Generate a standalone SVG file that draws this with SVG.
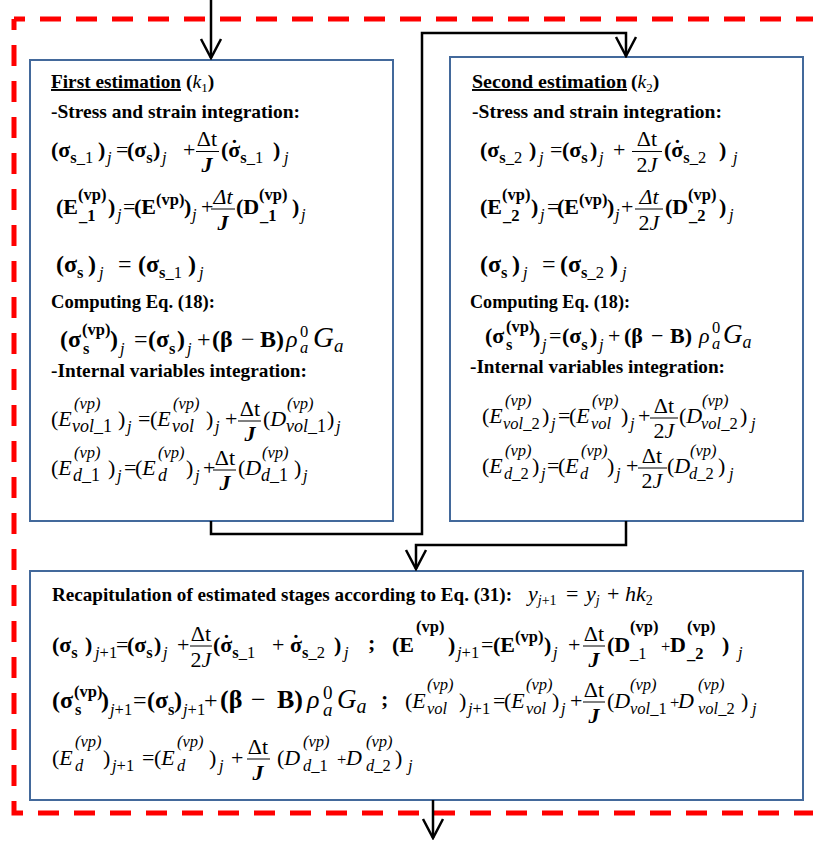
<svg xmlns="http://www.w3.org/2000/svg" width="813" height="843" viewBox="0 0 813 843">
<style>
.box{fill:#fff;stroke:#43699b;stroke-width:2}
.red{fill:none;stroke:#ff0000;stroke-width:5;stroke-dasharray:21 15;stroke-dashoffset:10}
.c{fill:none;stroke:#000;stroke-width:2.5}
.h{font-family:"Liberation Serif",serif;font-weight:bold;font-size:19.5px;fill:#000}
.m{font-family:"Liberation Serif",serif;font-size:22px;fill:#000}
.L{font-size:24px}
.b{font-weight:bold}
.i{font-style:italic}
.s{font-size:16.5px}
.v{font-size:18px}
.u{text-decoration:underline}
.fr{text-anchor:middle}
.fb{stroke:#000;stroke-width:1}
</style>
<defs>
<marker id="ah" viewBox="-2 -12 24 24" refX="20" refY="0" markerWidth="24" markerHeight="24" markerUnits="userSpaceOnUse" orient="auto"><path d="M1,-10 L20,0 L1,10" fill="none" stroke="#000" stroke-width="2.5"/></marker>
</defs>
<rect width="813" height="843" fill="#fff"/>
<g id="frame">
<path class="red" d="M14,19 H830"/>
<path class="red" d="M14,19 V813 H830"/>
</g>

<g id="box1">
<rect class="box" x="30" y="60" width="363" height="461"/>
<text class="h u" x="51" y="88" textLength="130" lengthAdjust="spacingAndGlyphs">First estimation</text>
<text class="h" x="186" y="88">(<tspan class="i" font-weight="normal">k</tspan><tspan font-weight="normal" font-size="13" dy="4">1</tspan><tspan dy="-4">)</tspan></text>
<text class="h" x="51" y="118" textLength="249" lengthAdjust="spacingAndGlyphs">-Stress and strain integration:</text>
<text class="m" y="157"><tspan class="b" x="51">(σ</tspan><tspan class="s b" y="163">s</tspan><tspan class="s" y="163">_1</tspan><tspan class="b" x="98" y="157">)</tspan><tspan class="s i" x="107" y="163">j</tspan><tspan x="116" y="157">=</tspan><tspan class="b" x="127">(σ</tspan><tspan class="s b" y="163">s</tspan><tspan class="b" x="153" y="157">)</tspan><tspan class="s i" x="162" y="163">j</tspan><tspan x="183" y="157">+</tspan><tspan class="b" x="221">(σ</tspan><tspan class="s b" y="163">s</tspan><tspan class="s" y="163">_1</tspan><tspan class="b" x="273" y="157">)</tspan><tspan class="s i" x="284" y="163">j</tspan><tspan class="b" x="230.8" y="155">˙</tspan></text>
<text class="m fr" x="207" y="146">Δt</text><line class="fb" x1="196" y1="151.5" x2="219" y2="151.5"/><text class="m fr b i" x="207" y="172">J</text>
<text class="m" y="214"><tspan class="b" x="56">(E</tspan><tspan class="s b" x="78" y="200">(vp)</tspan><tspan class="s b" x="79" y="221">_1</tspan><tspan class="b" x="108" y="214">)</tspan><tspan class="s i" x="117" y="220">j</tspan><tspan x="123" y="214">=</tspan><tspan class="b" x="134">(E</tspan><tspan class="s b" y="205">(vp)</tspan><tspan class="b" x="184" y="214">)</tspan><tspan class="s i" x="192" y="220">j</tspan><tspan x="201" y="214">+</tspan><tspan class="b" x="236">(D</tspan><tspan class="s b" x="259" y="200">(vp)</tspan><tspan class="s b" x="260" y="221">_1</tspan><tspan class="b" x="292" y="214">)</tspan><tspan class="s i" x="301" y="220">j</tspan></text>
<text class="m fr i" x="223" y="204">Δt</text><line class="fb" x1="211" y1="209" x2="235" y2="209"/><text class="m fr b i" x="223" y="230">J</text>
<text class="m L" y="272"><tspan class="b" x="56">(σ</tspan><tspan class="s b" y="278">s</tspan><tspan class="b" x="88" y="272">)</tspan><tspan class="s i" x="99" y="278">j</tspan><tspan x="118" y="272">=</tspan><tspan class="b" x="138">(σ</tspan><tspan class="s b" y="278">s</tspan><tspan class="s" y="278">_1</tspan><tspan class="b" x="188" y="272">)</tspan><tspan class="s i" x="199" y="278">j</tspan></text>
<text class="h" x="51" y="308" textLength="164" lengthAdjust="spacingAndGlyphs">Computing Eq. (18):</text>
<text class="m L" y="347"><tspan class="b" x="60">(σ</tspan><tspan class="s b" x="82" y="335">(vp)</tspan><tspan class="s b" x="83" y="354">s</tspan><tspan class="b" x="110" y="347">)</tspan><tspan class="s i" x="120" y="354">j</tspan><tspan x="134" y="347">=</tspan><tspan class="b" x="148">(σ</tspan><tspan class="s b" y="354">s</tspan><tspan class="b" x="177" y="347">)</tspan><tspan class="s i" x="187" y="354">j</tspan><tspan x="197" y="347">+</tspan><tspan class="b" x="212">(β</tspan><tspan x="241">−</tspan><tspan class="b" x="260">B)</tspan><tspan class="i" x="286">ρ</tspan><tspan class="s" x="300" y="337">0</tspan><tspan class="s i" x="300" y="353">a</tspan><tspan class="i" x="313" y="347" font-size="29">G</tspan><tspan class="i" font-size="19" y="352">a</tspan></text>
<text class="h" x="51" y="377" textLength="256" lengthAdjust="spacingAndGlyphs">-Internal variables integration:</text>
<text class="m" y="426"><tspan x="51">(</tspan><tspan class="i">E</tspan><tspan class="s i" x="74" y="409">(vp)</tspan><tspan class="v i" x="72" y="432">vol</tspan><tspan class="v" y="432">_1</tspan><tspan x="118" y="426">)</tspan><tspan class="s i" x="127" y="432">j</tspan><tspan x="138" y="426">=</tspan><tspan x="150">(</tspan><tspan class="i">E</tspan><tspan class="s i" x="173" y="409">(vp)</tspan><tspan class="v i" x="172" y="432">vol</tspan><tspan x="206" y="426">)</tspan><tspan class="s i" x="215" y="432">j</tspan><tspan x="225" y="426">+</tspan><tspan x="263">(</tspan><tspan class="i">D</tspan><tspan class="s i" x="287" y="409">(vp)</tspan><tspan class="v i" x="286" y="432">vol</tspan><tspan class="v" y="432">_1</tspan><tspan x="327" y="426">)</tspan><tspan class="s i" x="336" y="432">j</tspan></text>
<text class="m fr" x="250" y="416">Δt</text><line class="fb" x1="238" y1="421" x2="261" y2="421"/><text class="m fr b i" x="250" y="441">J</text>
<text class="m" y="475"><tspan x="51">(</tspan><tspan class="i">E</tspan><tspan class="s i" x="74" y="458">(vp)</tspan><tspan class="v i" x="73" y="481">d</tspan><tspan class="v" y="481">_1</tspan><tspan x="108" y="475">)</tspan><tspan class="s i" x="117" y="481">j</tspan><tspan x="124" y="475">=</tspan><tspan x="135">(</tspan><tspan class="i">E</tspan><tspan class="s i" x="158" y="458">(vp)</tspan><tspan class="v i" x="158" y="481">d</tspan><tspan x="186" y="475">)</tspan><tspan class="s i" x="195" y="481">j</tspan><tspan x="203" y="475">+</tspan><tspan x="238">(</tspan><tspan class="i">D</tspan><tspan class="s i" x="262" y="458">(vp)</tspan><tspan class="v i" x="261" y="481">d</tspan><tspan class="v" y="481">_1</tspan><tspan x="294" y="475">)</tspan><tspan class="s i" x="303" y="481">j</tspan></text>
<text class="m fr" x="225" y="465">Δt</text><line class="fb" x1="213" y1="470" x2="236" y2="470"/><text class="m fr b i" x="225" y="490">J</text>
</g>

<g id="box2">
<rect class="box" x="450" y="57" width="353" height="464"/>
<text class="h u" x="472" y="88" textLength="155" lengthAdjust="spacingAndGlyphs">Second estimation</text>
<text class="h" x="631" y="88">(<tspan class="i" font-weight="normal">k</tspan><tspan font-weight="normal" font-size="13" dy="4">2</tspan><tspan dy="-4">)</tspan></text>
<text class="h" x="472" y="118" textLength="250" lengthAdjust="spacingAndGlyphs">-Stress and strain integration:</text>
<text class="m" y="157"><tspan class="b" x="480">(σ</tspan><tspan class="s b" y="163">s</tspan><tspan class="s" y="163">_2</tspan><tspan class="b" x="529" y="157">)</tspan><tspan class="s i" x="539" y="163">j</tspan><tspan x="550" y="157">=</tspan><tspan class="b" x="562">(σ</tspan><tspan class="s b" y="163">s</tspan><tspan class="b" x="590" y="157">)</tspan><tspan class="s i" x="599" y="163">j</tspan><tspan x="613" y="157">+</tspan><tspan class="b" x="664">(σ</tspan><tspan class="s b" y="163">s</tspan><tspan class="s" y="163">_2</tspan><tspan class="b" x="719" y="157">)</tspan><tspan class="s i" x="733" y="163">j</tspan><tspan class="b" x="673.8" y="155">˙</tspan></text>
<text class="m fr" x="647" y="146">Δt</text><line class="fb" x1="632" y1="151.5" x2="662" y2="151.5"/><text class="m fr" x="647" y="172">2<tspan class="i">J</tspan></text>
<text class="m" y="214"><tspan class="b" x="480">(E</tspan><tspan class="s b" x="502" y="200">(vp)</tspan><tspan class="s b" x="503" y="221">_2</tspan><tspan class="b" x="531" y="214">)</tspan><tspan class="s i" x="540" y="220">j</tspan><tspan x="547" y="214">=</tspan><tspan class="b" x="557">(E</tspan><tspan class="s b" y="205">(vp)</tspan><tspan class="b" x="607" y="214">)</tspan><tspan class="s i" x="615" y="220">j</tspan><tspan x="621" y="214">+</tspan><tspan class="b" x="665">(D</tspan><tspan class="s b" x="688" y="200">(vp)</tspan><tspan class="s b" x="689" y="221">_2</tspan><tspan class="b" x="719" y="214">)</tspan><tspan class="s i" x="729" y="220">j</tspan></text>
<text class="m fr i" x="649" y="204">Δt</text><line class="fb" x1="635" y1="209" x2="663" y2="209"/><text class="m fr" x="649" y="230">2<tspan class="i">J</tspan></text>
<text class="m L" y="272"><tspan class="b" x="480">(σ</tspan><tspan class="s b" y="278">s</tspan><tspan class="b" x="512" y="272">)</tspan><tspan class="s i" x="523" y="278">j</tspan><tspan x="542" y="272">=</tspan><tspan class="b" x="560">(σ</tspan><tspan class="s b" y="278">s</tspan><tspan class="s" y="278">_2</tspan><tspan class="b" x="610" y="272">)</tspan><tspan class="s i" x="622" y="278">j</tspan></text>
<text class="h" x="470" y="308" textLength="160" lengthAdjust="spacingAndGlyphs">Computing Eq. (18):</text>
<text class="m" font-size="23" y="343"><tspan class="b" x="485">(σ</tspan><tspan class="s b" x="506" y="332">(vp)</tspan><tspan class="s b" x="506" y="350">s</tspan><tspan class="b" x="533" y="343">)</tspan><tspan class="s i" x="542" y="350">j</tspan><tspan x="549" y="343">=</tspan><tspan class="b" x="562">(σ</tspan><tspan class="s b" y="350">s</tspan><tspan class="b" x="590" y="343">)</tspan><tspan class="s i" x="599" y="350">j</tspan><tspan x="608" y="343">+</tspan><tspan class="b" x="624">(β</tspan><tspan x="651">−</tspan><tspan class="b" x="670">B)</tspan><tspan class="i" x="699">ρ</tspan><tspan class="s" x="712" y="333">0</tspan><tspan class="s i" x="712" y="349">a</tspan><tspan class="i" x="723" y="343" font-size="27">G</tspan><tspan class="i" font-size="18" y="348">a</tspan></text>
<text class="h" x="470" y="373" textLength="255" lengthAdjust="spacingAndGlyphs">-Internal variables integration:</text>
<text class="m" y="423"><tspan x="482">(</tspan><tspan class="i">E</tspan><tspan class="s i" x="505" y="406">(vp)</tspan><tspan class="s i" x="503" y="429">vol</tspan><tspan class="s" y="429">_2</tspan><tspan x="542" y="423">)</tspan><tspan class="s i" x="551" y="429">j</tspan><tspan x="558" y="423">=</tspan><tspan x="569">(</tspan><tspan class="i">E</tspan><tspan class="s i" x="592" y="406">(vp)</tspan><tspan class="s i" x="591" y="429">vol</tspan><tspan x="621" y="423">)</tspan><tspan class="s i" x="630" y="429">j</tspan><tspan x="638" y="423">+</tspan><tspan x="679">(</tspan><tspan class="i">D</tspan><tspan class="s i" x="702" y="406">(vp)</tspan><tspan class="s i" x="701" y="429">vol</tspan><tspan class="s" y="429">_2</tspan><tspan x="740" y="423">)</tspan><tspan class="s i" x="751" y="429">j</tspan></text>
<text class="m fr" x="664" y="413">Δt</text><line class="fb" x1="650" y1="418" x2="678" y2="418"/><text class="m fr" x="664" y="438">2<tspan class="i">J</tspan></text>
<text class="m" y="473"><tspan x="482">(</tspan><tspan class="i">E</tspan><tspan class="s i" x="505" y="456">(vp)</tspan><tspan class="s i" x="504" y="479">d</tspan><tspan class="s" y="479">_2</tspan><tspan x="532" y="473">)</tspan><tspan class="s i" x="541" y="479">j</tspan><tspan x="547" y="473">=</tspan><tspan x="558">(</tspan><tspan class="i">E</tspan><tspan class="s i" x="581" y="456">(vp)</tspan><tspan class="s i" x="580" y="479">d</tspan><tspan x="607" y="473">)</tspan><tspan class="s i" x="616" y="479">j</tspan><tspan x="626" y="473">+</tspan><tspan x="667">(</tspan><tspan class="i">D</tspan><tspan class="s i" x="690" y="456">(vp)</tspan><tspan class="s i" x="689" y="479">d</tspan><tspan class="s" y="479">_2</tspan><tspan x="718" y="473">)</tspan><tspan class="s i" x="729" y="479">j</tspan></text>
<text class="m fr" x="652" y="463">Δt</text><line class="fb" x1="638" y1="468" x2="667" y2="468"/><text class="m fr" x="652" y="488">2<tspan class="i">J</tspan></text>
</g>

<g id="box3">
<rect class="box" x="30" y="571" width="773" height="229"/>
<text class="h" x="52" y="601" textLength="460" lengthAdjust="spacingAndGlyphs">Recapitulation of estimated stages according to Eq. (31):</text>
<text class="m" font-size="20" y="601"><tspan class="i" x="528">y</tspan><tspan class="i" font-size="14" y="605">j</tspan><tspan font-size="14" y="605">+1</tspan><tspan x="566" y="601">=</tspan><tspan class="i" x="586">y</tspan><tspan class="i" font-size="14" y="605">j</tspan><tspan x="607" y="601">+</tspan><tspan class="i" x="625">hk</tspan><tspan font-size="14" y="605">2</tspan></text>
<text class="m" y="652"><tspan class="b" x="52">(σ</tspan><tspan class="s b" y="658">s</tspan><tspan class="b" x="85" y="652">)</tspan><tspan class="s i" x="95" y="658">j</tspan><tspan class="s" y="658">+1</tspan><tspan x="116" y="652">=</tspan><tspan class="b" x="127">(σ</tspan><tspan class="s b" y="658">s</tspan><tspan class="b" x="154" y="652">)</tspan><tspan class="s i" x="163" y="658">j</tspan><tspan x="177" y="652">+</tspan><tspan class="b" x="213">(σ</tspan><tspan class="s b" y="658">s</tspan><tspan class="s" y="658">_1</tspan><tspan x="272" y="652">+</tspan><tspan class="b" x="290">σ</tspan><tspan class="s b" y="658">s</tspan><tspan class="s" y="658">_2</tspan><tspan class="b" x="334" y="652">)</tspan><tspan class="s i" x="344" y="658">j</tspan><tspan class="b" x="368" y="650">;</tspan><tspan class="b" x="392" y="652">(E</tspan><tspan class="s b" x="416" y="632">(vp)</tspan><tspan class="b" x="448" y="652">)</tspan><tspan class="s i" x="457" y="658">j</tspan><tspan class="s" y="658">+1</tspan><tspan x="481" y="652">=</tspan><tspan class="b" x="493">(E</tspan><tspan class="s b" y="642">(vp)</tspan><tspan class="b" x="544" y="652">)</tspan><tspan class="s i" x="553" y="658">j</tspan><tspan x="568" y="652">+</tspan><tspan class="b" x="607">(D</tspan><tspan class="s b" x="630" y="632">(vp)</tspan><tspan class="s" x="630" y="659">_1</tspan><tspan class="s" x="661" y="652">+</tspan><tspan class="b" x="670" y="652">D</tspan><tspan class="s b" x="687" y="632">(vp)</tspan><tspan class="s b" x="687" y="659">_2</tspan><tspan class="b" x="722" y="652">)</tspan><tspan class="s i" x="738" y="658">j</tspan><tspan class="b" x="222.8" y="650">˙</tspan><tspan class="b" x="292.3" y="650">˙</tspan></text>
<text class="m fr" x="201" y="641">Δt</text><line class="fb" x1="190" y1="646" x2="212" y2="646"/><text class="m fr" x="201" y="667">2<tspan class="i">J</tspan></text>
<text class="m fr" x="594" y="641">Δt</text><line class="fb" x1="583" y1="646" x2="605" y2="646"/><text class="m fr b i" x="594" y="667">J</text>
<text class="m" y="708"><tspan class="b L" x="52">(σ</tspan><tspan class="s b" x="74" y="697">(vp)</tspan><tspan class="s b" x="75" y="715">s</tspan><tspan class="b L" x="101" y="708">)</tspan><tspan class="s i" x="110" y="715">j</tspan><tspan class="s" y="715">+1</tspan><tspan class="L" x="133" y="708">=</tspan><tspan class="b L" x="147">(σ</tspan><tspan class="s b" y="715">s</tspan><tspan class="b L" x="174" y="708">)</tspan><tspan class="s i" x="183" y="715">j</tspan><tspan class="s" y="715">+1</tspan><tspan class="L" x="204" y="708">+</tspan><tspan class="b" font-size="26" x="220">(β</tspan><tspan font-size="26" x="251">−</tspan><tspan class="b" font-size="26" x="277">B)</tspan><tspan class="i" font-size="26" x="307">ρ</tspan><tspan x="323" y="699" font-size="19">0</tspan><tspan class="i" x="323" y="716" font-size="19">a</tspan><tspan class="i" x="337" y="708" font-size="27">G</tspan><tspan class="i" font-size="20" y="713">a</tspan><tspan class="b" x="381" y="706">;</tspan><tspan x="405" y="708">(</tspan><tspan class="i">E</tspan><tspan class="s i" x="427" y="690">(vp)</tspan><tspan class="s i" x="427" y="714">vol</tspan><tspan x="459" y="708">)</tspan><tspan class="s i" x="468" y="714">j</tspan><tspan class="s" y="714">+1</tspan><tspan x="493" y="708">=</tspan><tspan x="504">(</tspan><tspan class="i">E</tspan><tspan class="s i" x="526" y="690">(vp)</tspan><tspan class="s i" x="526" y="714">vol</tspan><tspan x="552" y="708">)</tspan><tspan class="s i" x="561" y="714">j</tspan><tspan x="570" y="708">+</tspan><tspan x="607">(</tspan><tspan class="i">D</tspan><tspan class="s i" x="630" y="690">(vp)</tspan><tspan class="s i" x="630" y="714">vol</tspan><tspan class="s" y="714">_1</tspan><tspan class="s" x="670" y="708">+</tspan><tspan class="i" x="678" y="708">D</tspan><tspan class="s i" x="698" y="690">(vp)</tspan><tspan class="s i" x="698" y="714">vol</tspan><tspan class="s" y="714">_2</tspan><tspan x="741" y="708">)</tspan><tspan class="s i" x="752" y="714">j</tspan></text>
<text class="m fr" x="594" y="697">Δt</text><line class="fb" x1="583" y1="702" x2="605" y2="702"/><text class="m fr b i" x="594" y="723">J</text>
<text class="m" y="765"><tspan x="52">(</tspan><tspan class="i">E</tspan><tspan class="s i" x="75" y="747">(vp)</tspan><tspan class="s i" x="75" y="771">d</tspan><tspan x="103" y="765">)</tspan><tspan class="s i" x="112" y="771">j</tspan><tspan class="s" y="771">+1</tspan><tspan x="142" y="765">=</tspan><tspan x="154">(</tspan><tspan class="i">E</tspan><tspan class="s i" x="177" y="747">(vp)</tspan><tspan class="s i" x="177" y="771">d</tspan><tspan x="209" y="765">)</tspan><tspan class="s i" x="219" y="771">j</tspan><tspan x="231" y="765">+</tspan><tspan x="277">(</tspan><tspan class="i">D</tspan><tspan class="s i" x="303" y="747">(vp)</tspan><tspan class="s i" x="303" y="771">d</tspan><tspan class="s" y="771">_1</tspan><tspan class="s" x="337" y="765">+</tspan><tspan class="i" x="346" y="765">D</tspan><tspan class="s i" x="366" y="747">(vp)</tspan><tspan class="s i" x="366" y="771">d</tspan><tspan class="s" y="771">_2</tspan><tspan x="395" y="765">)</tspan><tspan class="s i" x="408" y="771">j</tspan></text>
<text class="m fr" x="258" y="754">Δt</text><line class="fb" x1="247" y1="759" x2="270" y2="759"/><text class="m fr b i" x="258" y="780">J</text>
</g>

<g id="connectors">
<path class="c" d="M211,0 V58" marker-end="url(#ah)"/>
<path class="c" d="M211,521 V534 H422 V33 H626 V56" marker-end="url(#ah)"/>
<path class="c" d="M626,521 V545 H416 V569" marker-end="url(#ah)"/>
<path class="c" d="M433,800 V838" marker-end="url(#ah)"/>
</g>
</svg>
